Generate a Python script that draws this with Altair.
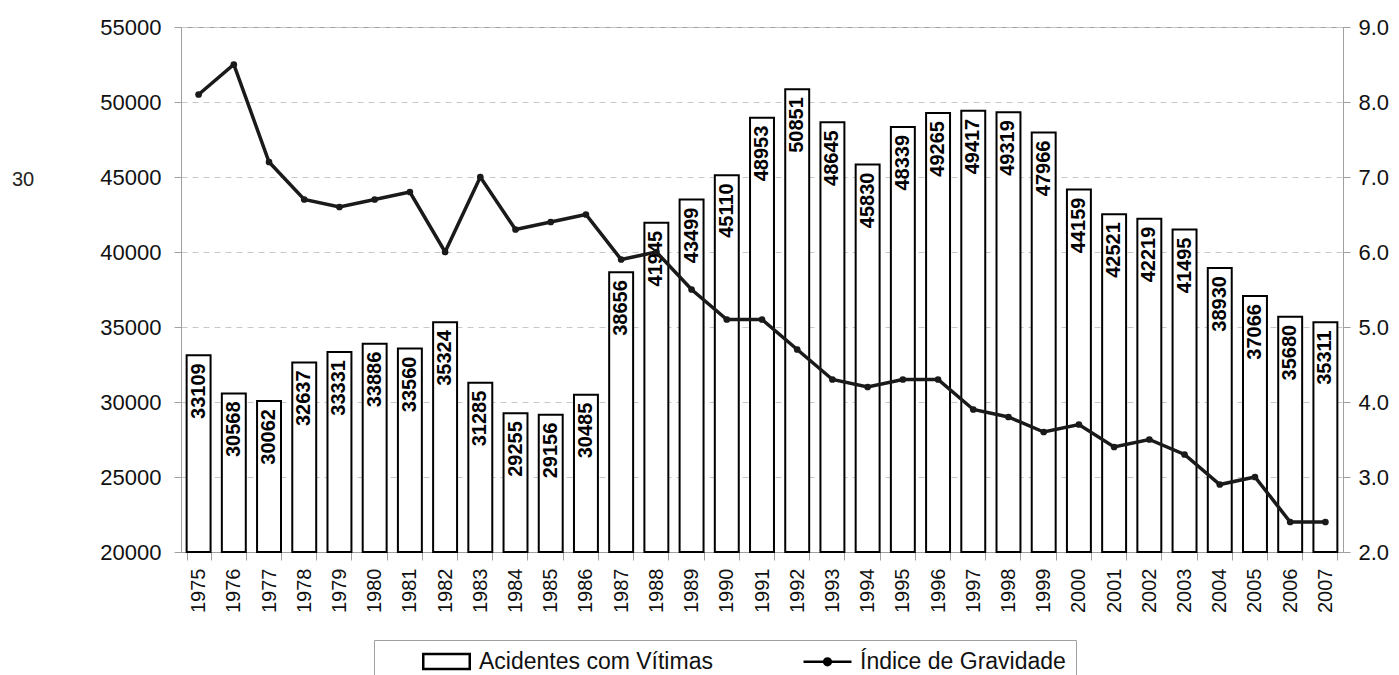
import altair as alt
import pandas as pd

years = ["1975", "1976", "1977", "1978", "1979", "1980", "1981", "1982", "1983",
         "1984", "1985", "1986", "1987", "1988", "1989", "1990", "1991", "1992",
         "1993", "1994", "1995", "1996", "1997", "1998", "1999", "2000", "2001",
         "2002", "2003", "2004", "2005", "2006", "2007"]
acidentes = [33109, 30568, 30062, 32637, 33331, 33886, 33560, 35324, 31285, 29255,
             29156, 30485, 38656, 41945, 43499, 45110, 48953, 50851, 48645, 45830,
             48339, 49265, 49417, 49319, 47966, 44159, 42521, 42219, 41495, 38930,
             37066, 35680, 35311]
indice = [8.1, 8.5, 7.2, 6.7, 6.6, 6.7, 6.8, 6.0, 7.0, 6.3, 6.4, 6.5, 5.9, 6.0,
          5.5, 5.1, 5.1, 4.7, 4.3, 4.2, 4.3, 4.3, 3.9, 3.8, 3.6, 3.7, 3.4, 3.5,
          3.3, 2.9, 3.0, 2.4, 2.4]
series = ["Acidentes com Vítimas", "Índice de Gravidade"]
left_ticks = [20000, 25000, 30000, 35000, 40000, 45000, 50000, 55000]
right_ticks = [2.0, 3.0, 4.0, 5.0, 6.0, 7.0, 8.0, 9.0]
stray_text = ["30"]

df = pd.DataFrame({"ano": years, "acidentes": acidentes, "indice": indice})
leg_df = pd.DataFrame({"serie": series, "ano": [years[0]] * 2, "acidentes": [acidentes[0]] * 2})
stray_df = pd.DataFrame({"t": stray_text})

FONT = "Liberation Sans"
GRAY = "#a0a0a0"

xscale = alt.Scale(paddingInner=0.32, paddingOuter=0.16)
x_axis = alt.Axis(title=None, labelAngle=270, labelFontSize=20, labelFont=FONT,
                  labelColor="#111", tickBand="extent", tickSize=8, tickColor=GRAY,
                  domainColor=GRAY, labelPadding=8, grid=False)
yl_scale = alt.Scale(domain=[20000, 55000], nice=False, zero=False)
yr_scale = alt.Scale(domain=[2, 9], nice=False, zero=False)
yl_axis = alt.Axis(title=None, values=left_ticks, format="d", labelFontSize=22,
                   labelFont=FONT, labelColor="#111", tickSize=7, tickColor=GRAY,
                   domainColor=GRAY, labelPadding=13, grid=True, gridColor="#c8c8c8",
                   gridDash=[6, 5], gridWidth=1)
yr_axis = alt.Axis(title=None, orient="right", values=right_ticks, format=".1f",
                   labelFontSize=22, labelFont=FONT, labelColor="#111", tickSize=7,
                   tickColor=GRAY, domainColor=GRAY, labelPadding=8, grid=False)

X = alt.X("ano:N", scale=xscale, axis=x_axis, sort=years)
YL = alt.Y("acidentes:Q", scale=yl_scale, axis=yl_axis)
YR = alt.Y("indice:Q", scale=yr_scale, axis=yr_axis)

base = alt.Chart(df)

bars = base.mark_bar(fill="white", stroke="black", strokeWidth=2).encode(
    x=X, y=YL, y2=alt.datum(20000),
)

labels = base.mark_text(angle=270, align="right", baseline="middle", dx=-8,
                        fontSize=20, fontWeight="bold", font=FONT, color="black").encode(
    x=X, y=YL, text=alt.Text("acidentes:Q", format="d"),
)

rect_path = "M-3.1,-1H3.1V1H-3.1Z"
line_path = "M-3.2,0H3.2M0.45,0A0.45,0.45,0,1,1,-0.45,0A0.45,0.45,0,1,1,0.45,0Z"

leg = alt.Legend(title=" ", titleOrient="left", titleFontSize=2, titlePadding=51)
legend_layer = alt.Chart(leg_df).mark_point(filled=True, strokeWidth=2.5).encode(
    x=X, y=YL,
    opacity=alt.value(0),
    fill=alt.Fill("serie:N", scale=alt.Scale(domain=series, range=["white", "black"]),
                  legend=leg),
    stroke=alt.Stroke("serie:N", scale=alt.Scale(domain=series, range=["black", "black"]),
                      legend=leg),
    shape=alt.Shape("serie:N", scale=alt.Scale(domain=series, range=[rect_path, line_path]),
                    legend=leg),
)

stray = alt.Chart(stray_df).mark_text(fontSize=20, font=FONT, color="#222").encode(
    x=alt.value(-158), y=alt.value(153), text="t:N"
)

line = base.mark_line(color="#1a1a1a", strokeWidth=3.5).encode(x=X, y=YR)
points = base.mark_circle(color="#1a1a1a", size=45, opacity=1).encode(x=X, y=YR)

left = alt.layer(bars, labels, legend_layer, stray)
right = alt.layer(line, points)

chart = alt.layer(left, right).resolve_scale(y="independent").properties(
    width=1162, height=525,
    autosize=alt.AutoSizeParams(type="none"),
    padding={"left": 173, "top": 19, "right": 48, "bottom": 140},
).configure_view(stroke=GRAY, strokeWidth=1).configure_legend(
    orient="none", legendX=193, legendY=613, direction="horizontal",
    labelFontSize=23, labelFont=FONT, labelColor="#111", labelLimit=400,
    symbolSize=225, symbolStrokeWidth=2.5, symbolStrokeColor="black",
    symbolOpacity=1, strokeColor=GRAY, padding=10, columnPadding=85, labelOffset=21,
    gridAlign="all",
)

chart.save("out.html", embed_options={"renderer": "svg", "actions": False})
